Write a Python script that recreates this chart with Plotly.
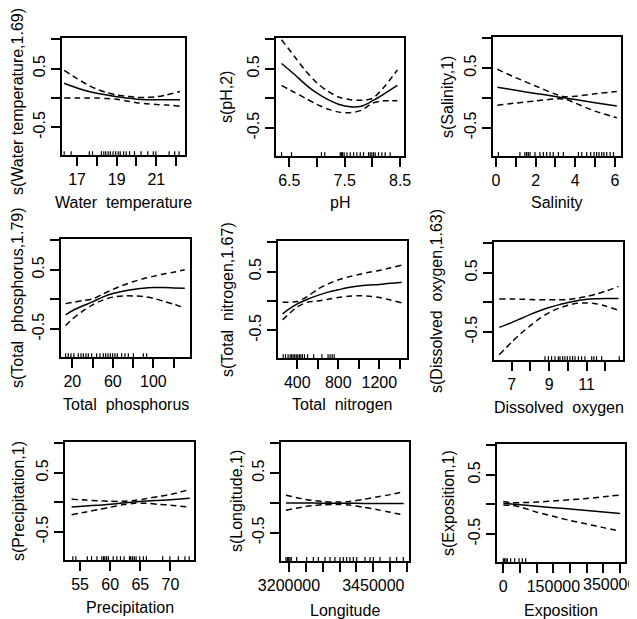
import plotly.graph_objects as go

# ---------------- data ----------------
# Water temperature
wt_x = [16.35, 17.0, 17.5, 18.0, 18.5, 19.0, 19.5, 20.0, 20.5, 21.0, 21.5, 22.2]
wt_fit = [0.25, 0.17, 0.12, 0.08, 0.05, 0.02, 0.0, -0.02, -0.03, -0.03, -0.03, -0.03]
wt_up = [0.47, 0.33, 0.23, 0.15, 0.09, 0.05, 0.03, 0.01, 0.01, 0.02, 0.05, 0.11]
wt_lo = [0.0, 0.0, 0.0, 0.0, -0.01, -0.02, -0.05, -0.08, -0.10, -0.11, -0.12, -0.14]
wt_rug = [16.35, 16.7, 17.62, 17.78, 18.23, 18.35, 18.45, 18.57, 18.68, 18.82, 18.95,
          19.08, 19.18, 19.35, 19.48, 19.65, 19.9, 20.23, 20.57, 20.85, 20.98, 21.65,
          21.93, 22.15]

# pH
ph_x = [6.36, 6.6, 6.8, 7.0, 7.2, 7.4, 7.6, 7.8, 8.0, 8.2, 8.45]
ph_fit = [0.59, 0.40, 0.23, 0.09, -0.02, -0.10, -0.14, -0.13, -0.04, 0.07, 0.22]
ph_up = [0.99, 0.70, 0.46, 0.26, 0.12, 0.02, -0.02, -0.03, 0.0, 0.18, 0.48]
ph_lo = [0.22, 0.10, 0.0, -0.10, -0.18, -0.23, -0.24, -0.20, -0.08, -0.04, -0.04]
ph_rug = [6.36, 6.54, 7.08, 7.14, 7.42, 7.44, 7.46, 7.49, 7.54, 7.60, 7.66, 7.72, 7.78,
          7.84, 7.93, 7.96, 7.99, 8.02, 8.05, 8.11, 8.17, 8.23, 8.32]

# Salinity
sal_x = [0.07, 1, 2, 3, 3.5, 4, 5, 6.1]
sal_fit = [0.18, 0.128, 0.077, 0.025, 0.0, -0.027, -0.079, -0.135]
sal_up = [0.48, 0.34, 0.20, 0.065, 0.02, 0.03, 0.07, 0.11]
sal_lo = [-0.12, -0.085, -0.05, -0.015, -0.02, -0.085, -0.22, -0.33]
sal_rug = [0.12, 1.21, 1.46, 1.55, 1.63, 1.72, 1.97, 2.22, 2.39, 2.56, 2.73, 2.89, 3.15,
           3.40, 4.16, 4.33, 4.58, 4.78, 4.95, 5.08, 5.2, 5.34, 5.45, 5.59, 5.76, 5.93]

# Total phosphorus
tp_x = [13.4, 20, 30, 40, 50, 60, 70, 80, 90, 100, 110, 120, 131]
tp_fit = [-0.26, -0.19, -0.11, -0.04, 0.04, 0.10, 0.14, 0.17, 0.19, 0.20, 0.20, 0.195, 0.19]
tp_up = [-0.07, -0.05, -0.02, 0.01, 0.09, 0.17, 0.24, 0.30, 0.35, 0.39, 0.43, 0.46, 0.50]
tp_lo = [-0.44, -0.33, -0.20, -0.09, -0.01, 0.04, 0.06, 0.06, 0.05, 0.02, -0.03, -0.08, -0.14]
tp_rug = [13.4, 16.0, 18.7, 21.6, 25.9, 28.6, 30.9, 33.5, 35.8, 39.1, 44.0, 47.3, 50.6,
          52.9, 55.2, 57.5, 59.8, 62.1, 64.4, 68.7, 72.0, 75.3, 80.3, 90.1, 93.4]

# Total nitrogen
tn_x = [257, 300, 400, 500, 600, 700, 800, 900, 1000, 1100, 1200, 1300, 1418]
tn_fit = [-0.22, -0.16, -0.05, 0.03, 0.095, 0.15, 0.19, 0.23, 0.255, 0.27, 0.28, 0.30, 0.32]
tn_up = [-0.02, -0.02, -0.01, 0.08, 0.20, 0.29, 0.36, 0.41, 0.45, 0.49, 0.52, 0.56, 0.61]
tn_lo = [-0.32, -0.25, -0.10, -0.02, 0.0, 0.03, 0.06, 0.08, 0.09, 0.08, 0.06, 0.02, -0.03]
tn_rug = [262, 285, 310, 330, 345, 360, 375, 390, 405, 420, 435, 450, 470, 500, 560,
          640, 700, 720, 740, 760]

# Dissolved oxygen
do_x = [6.34, 7, 7.5, 8, 8.5, 9, 9.5, 10, 10.5, 11, 11.5, 12, 12.7]
do_fit = [-0.42, -0.34, -0.27, -0.20, -0.14, -0.085, -0.04, 0.0, 0.03, 0.055, 0.065, 0.068, 0.068]
do_up = [0.06, 0.06, 0.055, 0.05, 0.045, 0.045, 0.045, 0.05, 0.07, 0.10, 0.14, 0.19, 0.27]
do_lo = [-0.88, -0.67, -0.52, -0.39, -0.27, -0.17, -0.10, -0.045, -0.015, -0.01, -0.02, -0.06, -0.13]
do_rug = [8.78, 8.96, 9.13, 9.31, 9.49, 9.58, 9.72, 9.84, 9.97, 10.11, 10.25, 10.38,
          10.56, 10.73, 10.91, 11.27, 11.39, 11.53, 11.8, 12.74]

# Precipitation
pr_x = [53.6, 56, 58, 60, 62, 64, 66, 68, 70, 73.2]
pr_fit = [-0.075, -0.06, -0.045, -0.03, -0.01, 0.01, 0.025, 0.035, 0.045, 0.07]
pr_up = [0.055, 0.04, 0.03, 0.02, 0.02, 0.035, 0.065, 0.10, 0.135, 0.22]
pr_lo = [-0.205, -0.16, -0.12, -0.08, -0.04, -0.015, -0.015, -0.03, -0.045, -0.08]
pr_rug = [53.8, 54.3, 56.2, 56.9, 57.8, 58.6, 58.9, 59.1, 59.4, 59.7, 60.5, 61.1, 61.7,
          62.3, 63.2, 63.4, 63.7, 64.0, 64.3, 64.9, 65.5, 66.0, 68.7, 69.9, 71.3, 72.4, 73.1]

# Longitude
lon_x = [3191000, 3250000, 3300000, 3340000, 3380000, 3420000, 3460000, 3500000, 3540000]
lon_fit = [0.0, 0.0, -0.003, -0.005, -0.005, -0.007, -0.008, -0.01, -0.01]
lon_up = [0.13, 0.06, 0.025, 0.015, 0.025, 0.06, 0.10, 0.14, 0.19]
lon_lo = [-0.12, -0.06, -0.03, -0.025, -0.035, -0.07, -0.11, -0.155, -0.20]
lon_rug = [3191100, 3195060, 3199000, 3202960, 3206900, 3222700, 3252400, 3272100,
           3286900, 3306700, 3321500, 3336300, 3351200, 3361000, 3370900, 3380800,
           3390700, 3400600, 3425300, 3440100, 3450000, 3469700, 3499400, 3519100, 3538900]

# Exposition
ex_x = [0, 25000, 50000, 100000, 150000, 200000, 250000, 300000, 350000]
ex_fit = [0.02, 0.008, -0.004, -0.029, -0.053, -0.077, -0.101, -0.126, -0.15]
ex_up = [0.05, 0.03, 0.03, 0.04, 0.06, 0.08, 0.10, 0.13, 0.16]
ex_lo = [-0.01, -0.015, -0.04, -0.13, -0.20, -0.27, -0.33, -0.39, -0.45]
ex_rug = [0, 4000, 8000, 12000, 22000, 34000, 47000, 57000, 67000]

# axis tick values / labels
wt_ticks = [17, 18, 19, 20, 21, 22]
wt_labels = ["17", "", "19", "", "21", ""]
ph_ticks = [6.5, 7.0, 7.5, 8.0, 8.5]
ph_labels = ["6.5", "", "7.5", "", "8.5"]
sal_ticks = [0, 1, 2, 3, 4, 5, 6]
sal_labels = ["0", "", "2", "", "4", "", "6"]
tp_ticks = [20, 40, 60, 80, 100, 120]
tp_labels = ["20", "", "60", "", "100", ""]
tn_ticks = [400, 600, 800, 1000, 1200, 1400]
tn_labels = ["400", "", "800", "", "1200", ""]
do_ticks = [7, 8, 9, 10, 11, 12]
do_labels = ["7", "", "9", "", "11", ""]
pr_ticks = [55, 60, 65, 70]
pr_labels = ["55", "60", "65", "70"]
lon_ticks = [3200000, 3250000, 3300000, 3350000, 3400000, 3450000, 3500000, 3550000]
lon_labels = ["3200000", "", "", "", "", "3450000", "", ""]
ex_ticks = [0, 50000, 100000, 150000, 200000, 250000, 300000, 350000]
ex_labels = ["0", "", "", "150000", "", "", "", ""]
ex_last_label = "350000"     # drawn separately so it is not hidden at the page edge
y_ticks = [-0.5, 0, 0.5, 1.0]
y_labels = ["-0.5", "", "0.5", ""]

x_titles = ["Water  temperature", "pH", "Salinity", "Total  phosphorus", "Total  nitrogen",
            "Dissolved  oxygen", "Precipitation", "Longitude", "Exposition"]
y_titles = ["s(Water temperature,1.69)", "s(pH,2)", "s(Salinity,1)",
            "s(Total  phosphorus,1.79)", "s(Total  nitrogen,1.67)",
            "s(Dissolved  oxygen,1.63)", "s(Precipitation,1)", "s(Longitude,1)",
            "s(Exposition,1)"]

# ---------------- layout geometry (page pixels) ----------------
PAGE_W, PAGE_H = 637, 619
OFF = 8                      # the page body margin shifts the figure by this much
W, H = PAGE_W - OFF, PAGE_H - OFF
# box: left, right, top, bottom ; x range ; y-title x ; y-title centre y ; x-title y
panels = [
    dict(x=wt_x, fit=wt_fit, up=wt_up, lo=wt_lo, rug=wt_rug, tv=wt_ticks, tt=wt_labels,
         box=(62, 185, 38, 155), xr=(16.24, 22.45), yt=17, ytc=102, xt=202),
    dict(x=ph_x, fit=ph_fit, up=ph_up, lo=ph_lo, rug=ph_rug, tv=ph_ticks, tt=ph_labels,
         box=(276, 404, 38, 156), xr=(6.26, 8.57), yt=227, ytc=97, xt=202),
    dict(x=sal_x, fit=sal_fit, up=sal_up, lo=sal_lo, rug=sal_rug, tv=sal_ticks, tt=sal_labels,
         box=(493, 621, 37, 156), xr=(-0.15, 6.31), yt=448, ytc=97, xt=202),
    dict(x=tp_x, fit=tp_fit, up=tp_up, lo=tp_lo, rug=tp_rug, tv=tp_ticks, tt=tp_labels,
         box=(61, 190, 239, 357), xr=(8.84, 136.2), yt=17, ytc=298, xt=404),
    dict(x=tn_x, fit=tn_fit, up=tn_up, lo=tn_lo, rug=tn_rug, tv=tn_ticks, tt=tn_labels,
         box=(278, 407, 241, 358), xr=(212, 1470), yt=227, ytc=300, xt=405),
    dict(x=do_x, fit=do_fit, up=do_up, lo=do_lo, rug=do_rug, tv=do_ticks, tt=do_labels,
         box=(494, 623, 242, 360), xr=(6.06, 12.94), yt=436, ytc=301, xt=407),
    dict(x=pr_x, fit=pr_fit, up=pr_up, lo=pr_lo, rug=pr_rug, tv=pr_ticks, tt=pr_labels,
         box=(65, 194, 442, 560), xr=(52.5, 73.9), yt=18, ytc=501, xt=607),
    dict(x=lon_x, fit=lon_fit, up=lon_up, lo=lon_lo, rug=lon_rug, tv=lon_ticks, tt=lon_labels,
         box=(281, 409, 442, 561), xr=(3176300, 3555700), yt=236, ytc=501, xt=610),
    dict(x=ex_x, fit=ex_fit, up=ex_up, lo=ex_lo, rug=ex_rug, tv=ex_ticks, tt=ex_labels,
         box=(497, 625, 444, 562), xr=(-18900, 364400), yt=448, ytc=503, xt=610),
]


def px(x):
    return (x - OFF) / W


def py(y):
    return (H - (y - OFF)) / H


YR = (-0.97, 1.02)
RUG_LEN = 0.065
FONT = "Arial, Liberation Sans, sans-serif"
LW = 1.5

fig = go.Figure()
annotations = []
for i, p in enumerate(panels):
    k = "" if i == 0 else str(i + 1)
    xa, ya = "x" + k, "y" + k
    fig.add_trace(go.Scatter(x=p["x"], y=p["fit"], mode="lines", xaxis=xa, yaxis=ya,
                             line=dict(color="black", width=LW, shape="spline", smoothing=0.8),
                             showlegend=False, hoverinfo="skip"))
    for key in ("up", "lo"):
        fig.add_trace(go.Scatter(x=p["x"], y=p[key], mode="lines", xaxis=xa, yaxis=ya,
                                 line=dict(color="black", width=LW, dash="6px,4px",
                                           shape="spline", smoothing=0.8),
                                 showlegend=False, hoverinfo="skip"))
    rx, ry = [], []
    for v in p["rug"]:
        rx += [v, v, None]
        ry += [YR[0], YR[0] + RUG_LEN, None]
    fig.add_trace(go.Scatter(x=rx, y=ry, mode="lines", xaxis=xa, yaxis=ya,
                             line=dict(color="black", width=1.2),
                             showlegend=False, hoverinfo="skip"))

    L, R, T, B = p["box"]
    common = dict(showline=True, mirror=True, linecolor="black", linewidth=LW,
                  ticks="outside", ticklen=9, tickwidth=LW, tickcolor="black",
                  showgrid=False, zeroline=False, automargin=False,
                  tickfont=dict(family=FONT, size=16, color="black"))
    fig.layout["xaxis" + k] = dict(common, domain=[px(L), px(R)], range=list(p["xr"]),
                                   tickmode="array", tickvals=p["tv"], ticktext=p["tt"],
                                   anchor=ya, ticklabelstandoff=0)
    fig.layout["yaxis" + k] = dict(common, domain=[py(B), py(T)],
                                   range=list(YR), tickmode="array", tickvals=y_ticks,
                                   ticktext=y_labels, tickangle=-90, anchor=xa,
                                   ticklabelstandoff=0)
    annotations.append(dict(text=x_titles[i], xref="paper", yref="paper",
                            x=px((L + R) / 2), y=py(p["xt"]),
                            xanchor="center", yanchor="middle", showarrow=False,
                            font=dict(family=FONT, size=16, color="black")))
    annotations.append(dict(text=y_titles[i], xref="paper", yref="paper",
                            x=px(p["yt"]), y=py(p["ytc"]), textangle=-90,
                            xanchor="center", yanchor="middle", showarrow=False,
                            font=dict(family=FONT, size=16, color="black")))

# last Exposition tick label, kept inside the page as in the reference
annotations.append(dict(text=ex_last_label, xref="paper", yref="paper",
                        x=px(609), y=py(584), xanchor="center", yanchor="middle",
                        showarrow=False, font=dict(family=FONT, size=16, color="black")))

fig.update_layout(width=W, height=H, margin=dict(l=0, r=0, t=0, b=0, pad=0),
                  paper_bgcolor="white", plot_bgcolor="white",
                  annotations=annotations, showlegend=False)

fig.write_html("out.html")
